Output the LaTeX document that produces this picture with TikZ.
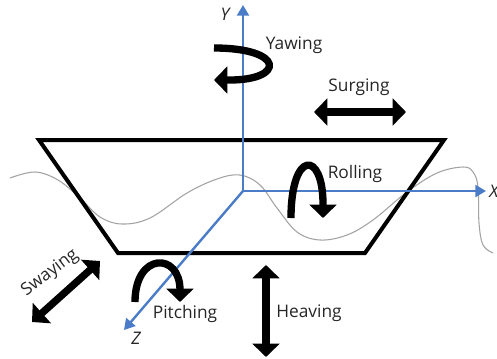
\documentclass[tikz,border=0pt]{standalone}
\usepackage{fontspec}
\setmainfont{Open Sans}
\definecolor{axisblue}{HTML}{4A7CC7}
\definecolor{wavegray}{HTML}{A3A3A3}
\usetikzlibrary{arrows.meta}
\begin{document}
\begin{tikzpicture}[
  x=0.75pt,y=-0.75pt,
  font=\fontsize{13}{15}\selectfont,
  lbl/.style={inner sep=0pt,text=black!85},
  hull/.style={draw=black,line width=3pt,line join=miter},
  axis/.style={-{Triangle[length=8pt,width=9pt]},axisblue,line width=1.8pt},
  motion/.style={{Triangle[length=10pt,width=20pt]}-{Triangle[length=10pt,width=20pt]},line width=5.5pt},
  turn/.style={-{Triangle[length=10pt,width=20pt]},line width=5.5pt}]
\useasboundingbox (0,0) rectangle (497,358);
\coordinate (o) at (243,191);
\coordinate (ytip) at (243,5);
\coordinate (xtip) at (486,191);
\coordinate (ztip) at (124,330);
\draw[wavegray,line width=0.8pt] plot[smooth,tension=0.6] coordinates {(10,178) (35,172) (58,180) (80,198) (100,217) (122,224) (150,218) (187,193) (217,179) (240,175) (260,185) (277,208) (297,232) (320,240) (347,235) (373,220) (407,192) (437,173) (463,167) (473,172) (478,187) (479,223) (483,245) (493,253)};
\coordinate (tl) at (39,140);
\coordinate (tr) at (444,140);
\coordinate (br) at (365,253);
\coordinate (bl) at (118,253);
\draw[hull] (tl) -- (tr) -- (br) -- (bl) -- cycle;
\draw[axis] (o) -- (ytip);
\draw[axis] (o) -- (xtip);
\draw[axis] (o) -- (ztip);
\node[lbl,font=\fontsize{13}{15}\itshape] (ylabel) at (225,14) {Y};
\node[lbl,font=\fontsize{13}{15}\itshape] (xlabel) at (494,191) {X};
\node[lbl,font=\fontsize{13}{15}\itshape] (zlabel) at (136,338) {Z};
\node[lbl] (yawing) at (294,45) {Yawing};
\node[lbl] (surging) at (359,87) {Surging};
\node[lbl] (rolling) at (355,174) {Rolling};
\node[lbl] (heaving) at (309,313) {Heaving};
\node[lbl] (pitching) at (185,314) {Pitching};
\node[lbl,rotate=37] (swaying) at (50,273) {Swaying};
\coordinate (sl) at (314,112);
\coordinate (sr) at (406,112);
\draw[motion] (sl) -- (sr);
\coordinate (ht) at (266,265);
\coordinate (hb) at (266,357);
\draw[motion] (ht) -- (hb);
\coordinate (swa) at (32,322);
\coordinate (swb) at (100,261);
\draw[motion] (swa) -- (swb);
\coordinate (ya) at (214,48);
\coordinate (yb) at (214,80);
\draw[turn] (ya) .. controls (285,48) and (285,80) .. (230,80) -- (yb);
\coordinate (ra) at (291,218);
\coordinate (rb) at (323,218);
\draw[turn] (ra) .. controls (291,150) and (323,150) .. (323,204) -- (rb);
\coordinate (pa) at (135,302);
\coordinate (pb) at (180,302);
\draw[turn] (pa) .. controls (135,252) and (180,252) .. (180,290) -- (pb);
\end{tikzpicture}
\end{document}
